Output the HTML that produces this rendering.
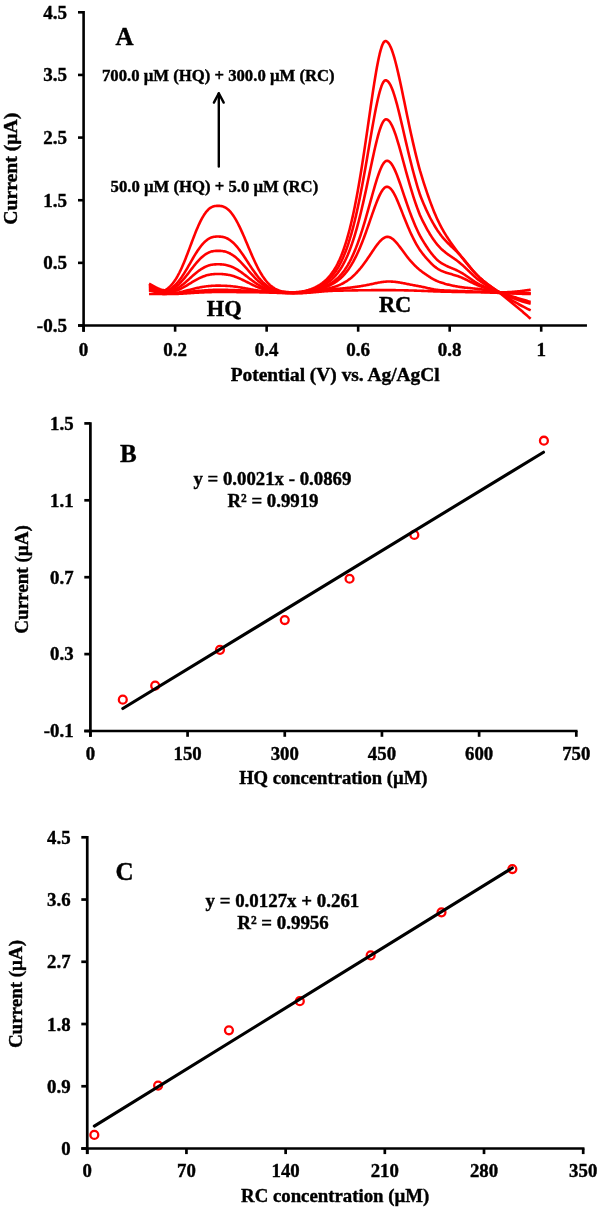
<!DOCTYPE html>
<html><head><meta charset="utf-8"><style>
html,body{margin:0;padding:0;background:#fff;}
svg{display:block;will-change:transform;}
text{font-family:'Liberation Serif',serif;font-weight:bold;fill:#000;stroke:#000;stroke-width:0.4px;}
</style></head><body>
<svg width="598" height="1209" viewBox="0 0 598 1209">
<rect width="598" height="1209" fill="#fff"/>
<g fill="none" stroke="#f00" stroke-width="2.6" stroke-linejoin="round" stroke-linecap="butt"><path d="M149.04,293.99 L149.95,294.00 L150.87,294.01 L151.78,294.02 L152.70,294.03 L153.61,294.04 L154.53,294.04 L155.44,294.05 L156.36,294.05 L157.27,294.06 L158.19,294.06 L159.10,294.07 L160.02,294.07 L160.93,294.07 L161.85,294.07 L162.76,294.08 L163.68,294.08 L164.60,294.08 L165.51,294.07 L166.43,294.06 L167.34,294.05 L168.26,294.03 L169.17,294.02 L170.09,294.01 L171.00,294.00 L171.92,293.98 L172.83,293.97 L173.75,293.95 L174.66,293.94 L175.58,293.92 L176.49,293.90 L177.41,293.87 L178.32,293.84 L179.24,293.80 L180.15,293.75 L181.07,293.70 L181.98,293.65 L182.90,293.59 L183.81,293.53 L184.73,293.47 L185.64,293.41 L186.56,293.34 L187.48,293.27 L188.39,293.21 L189.31,293.14 L190.22,293.08 L191.14,293.01 L192.05,292.95 L192.97,292.89 L193.88,292.83 L194.80,292.77 L195.71,292.72 L196.63,292.68 L197.54,292.63 L198.46,292.60 L199.37,292.56 L200.29,292.52 L201.20,292.48 L202.12,292.44 L203.03,292.40 L203.95,292.36 L204.86,292.32 L205.78,292.28 L206.69,292.24 L207.61,292.21 L208.52,292.18 L209.44,292.14 L210.36,292.11 L211.27,292.09 L212.19,292.06 L213.10,292.04 L214.02,292.02 L214.93,292.01 L215.85,292.00 L216.76,291.99 L217.68,291.99 L218.59,291.99 L219.51,291.99 L220.42,291.99 L221.34,291.99 L222.25,291.99 L223.17,292.00 L224.08,292.00 L225.00,292.00 L225.91,292.01 L226.83,292.01 L227.74,292.01 L228.66,292.02 L229.57,292.03 L230.49,292.03 L231.40,292.04 L232.32,292.04 L233.24,292.05 L234.15,292.06 L235.07,292.06 L235.98,292.07 L236.90,292.08 L237.81,292.09 L238.73,292.10 L239.64,292.10 L240.56,292.11 L241.47,292.12 L242.39,292.13 L243.30,292.14 L244.22,292.15 L245.13,292.16 L246.05,292.17 L246.96,292.18 L247.88,292.19 L248.79,292.20 L249.71,292.21 L250.62,292.22 L251.54,292.23 L252.45,292.24 L253.37,292.25 L254.28,292.26 L255.20,292.27 L256.12,292.28 L257.03,292.30 L257.95,292.31 L258.86,292.32 L259.78,292.33 L260.69,292.35 L261.61,292.37 L262.52,292.39 L263.44,292.41 L264.35,292.43 L265.27,292.46 L266.18,292.48 L267.10,292.51 L268.01,292.54 L268.93,292.56 L269.84,292.59 L270.76,292.62 L271.67,292.65 L272.59,292.68 L273.50,292.71 L274.42,292.74 L275.33,292.77 L276.25,292.81 L277.16,292.84 L278.08,292.87 L279.00,292.90 L279.91,292.93 L280.83,292.95 L281.74,292.98 L282.66,293.01 L283.57,293.04 L284.49,293.06 L285.40,293.08 L286.32,293.11 L287.23,293.13 L288.15,293.15 L289.06,293.17 L289.98,293.18 L290.89,293.20 L291.81,293.21 L292.72,293.22 L293.64,293.23 L294.55,293.24 L295.47,293.24 L296.38,293.24 L297.30,293.24 L298.21,293.23 L299.13,293.21 L300.04,293.18 L300.96,293.15 L301.88,293.12 L302.79,293.08 L303.71,293.03 L304.62,292.98 L305.54,292.92 L306.45,292.86 L307.37,292.80 L308.28,292.73 L309.20,292.66 L310.11,292.59 L311.03,292.52 L311.94,292.44 L312.86,292.36 L313.77,292.28 L314.69,292.19 L315.60,292.11 L316.52,292.03 L317.43,291.94 L318.35,291.86 L319.26,291.78 L320.18,291.69 L321.09,291.61 L322.01,291.53 L322.92,291.45 L323.84,291.38 L324.76,291.30 L325.67,291.23 L326.59,291.17 L327.50,291.10 L328.42,291.04 L329.33,290.98 L330.25,290.93 L331.16,290.88 L332.08,290.84 L332.99,290.80 L333.91,290.77 L334.82,290.75 L335.74,290.73 L336.65,290.71 L337.57,290.69 L338.48,290.67 L339.40,290.65 L340.31,290.63 L341.23,290.61 L342.14,290.59 L343.06,290.58 L343.97,290.56 L344.89,290.54 L345.80,290.53 L346.72,290.51 L347.64,290.49 L348.55,290.48 L349.47,290.46 L350.38,290.44 L351.30,290.43 L352.21,290.41 L353.13,290.40 L354.04,290.38 L354.96,290.37 L355.87,290.36 L356.79,290.34 L357.70,290.33 L358.62,290.32 L359.53,290.30 L360.45,290.29 L361.36,290.28 L362.28,290.27 L363.19,290.26 L364.11,290.25 L365.02,290.24 L365.94,290.23 L366.85,290.22 L367.77,290.21 L368.68,290.20 L369.60,290.19 L370.52,290.18 L371.43,290.17 L372.35,290.17 L373.26,290.16 L374.18,290.15 L375.09,290.15 L376.01,290.14 L376.92,290.14 L377.84,290.13 L378.75,290.13 L379.67,290.12 L380.58,290.12 L381.50,290.12 L382.41,290.11 L383.33,290.11 L384.24,290.11 L385.16,290.11 L386.07,290.11 L386.99,290.11 L387.90,290.11 L388.82,290.11 L389.73,290.12 L390.65,290.12 L391.56,290.13 L392.48,290.14 L393.40,290.14 L394.31,290.15 L395.23,290.17 L396.14,290.18 L397.06,290.19 L397.97,290.21 L398.89,290.22 L399.80,290.24 L400.72,290.25 L401.63,290.27 L402.55,290.29 L403.46,290.31 L404.38,290.33 L405.29,290.35 L406.21,290.37 L407.12,290.40 L408.04,290.42 L408.95,290.44 L409.87,290.47 L410.78,290.49 L411.70,290.52 L412.61,290.55 L413.53,290.57 L414.44,290.60 L415.36,290.63 L416.28,290.66 L417.19,290.68 L418.11,290.71 L419.02,290.74 L419.94,290.77 L420.85,290.80 L421.77,290.84 L422.68,290.87 L423.60,290.91 L424.51,290.94 L425.43,290.98 L426.34,291.02 L427.26,291.06 L428.17,291.10 L429.09,291.14 L430.00,291.18 L430.92,291.22 L431.83,291.25 L432.75,291.29 L433.66,291.33 L434.58,291.37 L435.49,291.40 L436.41,291.43 L437.32,291.47 L438.24,291.50 L439.16,291.53 L440.07,291.55 L440.99,291.58 L441.90,291.60 L442.82,291.63 L443.73,291.65 L444.65,291.67 L445.56,291.69 L446.48,291.71 L447.39,291.74 L448.31,291.76 L449.22,291.78 L450.14,291.80 L451.05,291.81 L451.97,291.83 L452.88,291.85 L453.80,291.87 L454.71,291.89 L455.63,291.91 L456.54,291.92 L457.46,291.94 L458.37,291.96 L459.29,291.97 L460.20,291.99 L461.12,292.01 L462.04,292.02 L462.95,292.04 L463.87,292.05 L464.78,292.07 L465.70,292.08 L466.61,292.09 L467.53,292.10 L468.44,292.12 L469.36,292.13 L470.27,292.14 L471.19,292.15 L472.10,292.17 L473.02,292.18 L473.93,292.19 L474.85,292.21 L475.76,292.22 L476.68,292.24 L477.59,292.25 L478.51,292.27 L479.42,292.29 L480.34,292.31 L481.25,292.33 L482.17,292.35 L483.08,292.37 L484.00,292.40 L484.92,292.42 L485.83,292.45 L486.75,292.48 L487.66,292.51 L488.58,292.54 L489.49,292.57 L490.41,292.60 L491.32,292.63 L492.24,292.66 L493.15,292.69 L494.07,292.72 L494.98,292.75 L495.90,292.78 L496.81,292.81 L497.73,292.84 L498.64,292.87 L499.56,292.89 L500.47,292.92 L501.39,292.94 L502.30,292.96 L503.22,292.98 L504.13,293.01 L505.05,293.03 L505.96,293.05 L506.88,293.07 L507.80,293.09 L508.71,293.11 L509.63,293.14 L510.54,293.16 L511.46,293.18 L512.37,293.20 L513.29,293.22 L514.20,293.24 L515.12,293.26 L516.03,293.28 L516.95,293.30 L517.86,293.31 L518.78,293.33 L519.69,293.35 L520.61,293.37 L521.52,293.39 L522.44,293.40 L523.35,293.42 L524.27,293.44 L525.18,293.45 L526.10,293.47 L527.01,293.49 L527.93,293.50 L528.84,293.52 L529.76,293.53 L530.68,293.55"/>
<path d="M149.04,290.42 L149.95,290.63 L150.87,290.83 L151.78,291.04 L152.70,291.24 L153.61,291.44 L154.53,291.64 L155.44,291.84 L156.36,292.04 L157.27,292.24 L158.19,292.44 L159.10,292.63 L160.02,292.83 L160.93,293.02 L161.85,293.21 L162.76,293.40 L163.68,293.59 L164.60,293.77 L165.51,293.85 L166.43,293.83 L167.34,293.80 L168.26,293.77 L169.17,293.74 L170.09,293.71 L171.00,293.67 L171.92,293.63 L172.83,293.59 L173.75,293.55 L174.66,293.51 L175.58,293.46 L176.49,293.40 L177.41,293.34 L178.32,293.27 L179.24,293.19 L180.15,293.10 L181.07,293.01 L181.98,292.91 L182.90,292.80 L183.81,292.70 L184.73,292.58 L185.64,292.47 L186.56,292.35 L187.48,292.23 L188.39,292.11 L189.31,291.99 L190.22,291.87 L191.14,291.75 L192.05,291.63 L192.97,291.51 L193.88,291.40 L194.80,291.29 L195.71,291.19 L196.63,291.09 L197.54,291.00 L198.46,290.92 L199.37,290.83 L200.29,290.75 L201.20,290.67 L202.12,290.59 L203.03,290.51 L203.95,290.44 L204.86,290.37 L205.78,290.30 L206.69,290.24 L207.61,290.18 L208.52,290.12 L209.44,290.07 L210.36,290.02 L211.27,289.98 L212.19,289.95 L213.10,289.91 L214.02,289.89 L214.93,289.87 L215.85,289.85 L216.76,289.84 L217.68,289.84 L218.59,289.84 L219.51,289.84 L220.42,289.84 L221.34,289.84 L222.25,289.84 L223.17,289.85 L224.08,289.86 L225.00,289.87 L225.91,289.88 L226.83,289.90 L227.74,289.91 L228.66,289.93 L229.57,289.96 L230.49,289.98 L231.40,290.01 L232.32,290.04 L233.24,290.07 L234.15,290.11 L235.07,290.14 L235.98,290.18 L236.90,290.23 L237.81,290.27 L238.73,290.32 L239.64,290.36 L240.56,290.41 L241.47,290.46 L242.39,290.51 L243.30,290.57 L244.22,290.62 L245.13,290.67 L246.05,290.73 L246.96,290.78 L247.88,290.84 L248.79,290.89 L249.71,290.95 L250.62,291.00 L251.54,291.06 L252.45,291.11 L253.37,291.16 L254.28,291.22 L255.20,291.27 L256.12,291.32 L257.03,291.36 L257.95,291.41 L258.86,291.46 L259.78,291.50 L260.69,291.55 L261.61,291.60 L262.52,291.65 L263.44,291.69 L264.35,291.74 L265.27,291.78 L266.18,291.83 L267.10,291.87 L268.01,291.92 L268.93,291.96 L269.84,292.00 L270.76,292.04 L271.67,292.08 L272.59,292.12 L273.50,292.16 L274.42,292.19 L275.33,292.23 L276.25,292.26 L277.16,292.29 L278.08,292.33 L279.00,292.36 L279.91,292.38 L280.83,292.41 L281.74,292.44 L282.66,292.46 L283.57,292.48 L284.49,292.50 L285.40,292.52 L286.32,292.53 L287.23,292.55 L288.15,292.56 L289.06,292.57 L289.98,292.58 L290.89,292.58 L291.81,292.59 L292.72,292.59 L293.64,292.59 L294.55,292.58 L295.47,292.57 L296.38,292.56 L297.30,292.55 L298.21,292.52 L299.13,292.49 L300.04,292.46 L300.96,292.41 L301.88,292.36 L302.79,292.31 L303.71,292.25 L304.62,292.18 L305.54,292.11 L306.45,292.03 L307.37,291.95 L308.28,291.87 L309.20,291.78 L310.11,291.69 L311.03,291.59 L311.94,291.50 L312.86,291.40 L313.77,291.29 L314.69,291.19 L315.60,291.08 L316.52,290.98 L317.43,290.87 L318.35,290.76 L319.26,290.65 L320.18,290.54 L321.09,290.44 L322.01,290.33 L322.92,290.22 L323.84,290.12 L324.76,290.01 L325.67,289.91 L326.59,289.81 L327.50,289.71 L328.42,289.61 L329.33,289.52 L330.25,289.43 L331.16,289.34 L332.08,289.26 L332.99,289.18 L333.91,289.10 L334.82,289.03 L335.74,288.96 L336.65,288.89 L337.57,288.82 L338.48,288.75 L339.40,288.68 L340.31,288.60 L341.23,288.52 L342.14,288.44 L343.06,288.36 L343.97,288.28 L344.89,288.19 L345.80,288.10 L346.72,288.01 L347.64,287.91 L348.55,287.81 L349.47,287.71 L350.38,287.61 L351.30,287.50 L352.21,287.39 L353.13,287.28 L354.04,287.16 L354.96,287.04 L355.87,286.91 L356.79,286.78 L357.70,286.64 L358.62,286.50 L359.53,286.36 L360.45,286.21 L361.36,286.06 L362.28,285.90 L363.19,285.74 L364.11,285.58 L365.02,285.41 L365.94,285.23 L366.85,285.05 L367.77,284.87 L368.68,284.68 L369.60,284.49 L370.52,284.30 L371.43,284.11 L372.35,283.91 L373.26,283.72 L374.18,283.52 L375.09,283.33 L376.01,283.14 L376.92,282.95 L377.84,282.77 L378.75,282.59 L379.67,282.43 L380.58,282.27 L381.50,282.12 L382.41,281.99 L383.33,281.87 L384.24,281.77 L385.16,281.68 L386.07,281.61 L386.99,281.57 L387.90,281.54 L388.82,281.53 L389.73,281.54 L390.65,281.57 L391.56,281.61 L392.48,281.66 L393.40,281.73 L394.31,281.82 L395.23,281.91 L396.14,282.02 L397.06,282.14 L397.97,282.27 L398.89,282.41 L399.80,282.56 L400.72,282.71 L401.63,282.87 L402.55,283.04 L403.46,283.21 L404.38,283.39 L405.29,283.57 L406.21,283.75 L407.12,283.93 L408.04,284.11 L408.95,284.29 L409.87,284.48 L410.78,284.66 L411.70,284.84 L412.61,285.02 L413.53,285.19 L414.44,285.37 L415.36,285.54 L416.28,285.71 L417.19,285.88 L418.11,286.04 L419.02,286.20 L419.94,286.36 L420.85,286.53 L421.77,286.72 L422.68,286.91 L423.60,287.11 L424.51,287.31 L425.43,287.52 L426.34,287.73 L427.26,287.95 L428.17,288.16 L429.09,288.37 L430.00,288.57 L430.92,288.77 L431.83,288.97 L432.75,289.15 L433.66,289.33 L434.58,289.49 L435.49,289.65 L436.41,289.79 L437.32,289.91 L438.24,290.02 L439.16,290.11 L440.07,290.18 L440.99,290.24 L441.90,290.29 L442.82,290.34 L443.73,290.39 L444.65,290.44 L445.56,290.48 L446.48,290.52 L447.39,290.56 L448.31,290.59 L449.22,290.62 L450.14,290.66 L451.05,290.69 L451.97,290.72 L452.88,290.75 L453.80,290.78 L454.71,290.81 L455.63,290.84 L456.54,290.87 L457.46,290.90 L458.37,290.93 L459.29,290.96 L460.20,290.99 L461.12,291.03 L462.04,291.06 L462.95,291.09 L463.87,291.13 L464.78,291.16 L465.70,291.19 L466.61,291.22 L467.53,291.26 L468.44,291.29 L469.36,291.32 L470.27,291.35 L471.19,291.38 L472.10,291.41 L473.02,291.44 L473.93,291.48 L474.85,291.51 L475.76,291.54 L476.68,291.57 L477.59,291.60 L478.51,291.63 L479.42,291.66 L480.34,291.68 L481.25,291.72 L482.17,291.75 L483.08,291.78 L484.00,291.82 L484.92,291.85 L485.83,291.89 L486.75,291.93 L487.66,291.96 L488.58,292.00 L489.49,292.03 L490.41,292.07 L491.32,292.10 L492.24,292.13 L493.15,292.16 L494.07,292.19 L494.98,292.22 L495.90,292.24 L496.81,292.26 L497.73,292.27 L498.64,292.29 L499.56,292.30 L500.47,292.30 L501.39,292.30 L502.30,292.29 L503.22,292.28 L504.13,292.26 L505.05,292.24 L505.96,292.21 L506.88,292.18 L507.80,292.14 L508.71,292.09 L509.63,292.04 L510.54,291.99 L511.46,291.93 L512.37,291.86 L513.29,291.79 L514.20,291.72 L515.12,291.64 L516.03,291.56 L516.95,291.47 L517.86,291.38 L518.78,291.28 L519.69,291.18 L520.61,291.07 L521.52,290.96 L522.44,290.85 L523.35,290.74 L524.27,290.62 L525.18,290.49 L526.10,290.36 L527.01,290.23 L527.93,290.10 L528.84,289.96 L529.76,289.82 L530.68,289.68"/>
<path d="M149.04,289.48 L149.95,289.75 L150.87,290.01 L151.78,290.27 L152.70,290.53 L153.61,290.79 L154.53,291.04 L155.44,291.30 L156.36,291.55 L157.27,291.80 L158.19,292.05 L159.10,292.29 L160.02,292.53 L160.93,292.77 L161.85,293.00 L162.76,293.24 L163.68,293.46 L164.60,293.69 L165.51,293.77 L166.43,293.72 L167.34,293.66 L168.26,293.59 L169.17,293.52 L170.09,293.45 L171.00,293.37 L171.92,293.28 L172.83,293.18 L173.75,293.08 L174.66,292.97 L175.58,292.86 L176.49,292.73 L177.41,292.59 L178.32,292.43 L179.24,292.27 L180.15,292.09 L181.07,291.90 L181.98,291.70 L182.90,291.50 L183.81,291.28 L184.73,291.06 L185.64,290.83 L186.56,290.60 L187.48,290.37 L188.39,290.13 L189.31,289.89 L190.22,289.65 L191.14,289.41 L192.05,289.17 L192.97,288.94 L193.88,288.71 L194.80,288.48 L195.71,288.27 L196.63,288.06 L197.54,287.86 L198.46,287.67 L199.37,287.49 L200.29,287.31 L201.20,287.14 L202.12,286.98 L203.03,286.83 L203.95,286.68 L204.86,286.54 L205.78,286.42 L206.69,286.30 L207.61,286.19 L208.52,286.09 L209.44,286.00 L210.36,285.93 L211.27,285.86 L212.19,285.80 L213.10,285.76 L214.02,285.72 L214.93,285.69 L215.85,285.67 L216.76,285.66 L217.68,285.66 L218.59,285.66 L219.51,285.67 L220.42,285.67 L221.34,285.68 L222.25,285.70 L223.17,285.72 L224.08,285.75 L225.00,285.79 L225.91,285.83 L226.83,285.88 L227.74,285.93 L228.66,286.00 L229.57,286.07 L230.49,286.15 L231.40,286.23 L232.32,286.32 L233.24,286.43 L234.15,286.53 L235.07,286.65 L235.98,286.77 L236.90,286.90 L237.81,287.03 L238.73,287.17 L239.64,287.32 L240.56,287.47 L241.47,287.62 L242.39,287.78 L243.30,287.94 L244.22,288.10 L245.13,288.27 L246.05,288.44 L246.96,288.61 L247.88,288.78 L248.79,288.95 L249.71,289.12 L250.62,289.28 L251.54,289.45 L252.45,289.61 L253.37,289.77 L254.28,289.93 L255.20,290.09 L256.12,290.24 L257.03,290.38 L257.95,290.52 L258.86,290.66 L259.78,290.80 L260.69,290.93 L261.61,291.06 L262.52,291.18 L263.44,291.30 L264.35,291.41 L265.27,291.53 L266.18,291.63 L267.10,291.74 L268.01,291.83 L268.93,291.93 L269.84,292.02 L270.76,292.10 L271.67,292.18 L272.59,292.26 L273.50,292.33 L274.42,292.40 L275.33,292.47 L276.25,292.53 L277.16,292.59 L278.08,292.64 L279.00,292.69 L279.91,292.74 L280.83,292.78 L281.74,292.82 L282.66,292.86 L283.57,292.90 L284.49,292.93 L285.40,292.96 L286.32,292.98 L287.23,293.01 L288.15,293.03 L289.06,293.04 L289.98,293.06 L290.89,293.07 L291.81,293.07 L292.72,293.08 L293.64,293.08 L294.55,293.08 L295.47,293.07 L296.38,293.06 L297.30,293.04 L298.21,293.02 L299.13,292.98 L300.04,292.94 L300.96,292.89 L301.88,292.84 L302.79,292.77 L303.71,292.70 L304.62,292.62 L305.54,292.54 L306.45,292.45 L307.37,292.35 L308.28,292.25 L309.20,292.14 L310.11,292.03 L311.03,291.91 L311.94,291.78 L312.86,291.65 L313.77,291.51 L314.69,291.37 L315.60,291.22 L316.52,291.07 L317.43,290.91 L318.35,290.74 L319.26,290.58 L320.18,290.40 L321.09,290.22 L322.01,290.03 L322.92,289.84 L323.84,289.64 L324.76,289.44 L325.67,289.23 L326.59,289.01 L327.50,288.79 L328.42,288.55 L329.33,288.32 L330.25,288.07 L331.16,287.81 L332.08,287.55 L332.99,287.27 L333.91,286.99 L334.82,286.70 L335.74,286.39 L336.65,286.07 L337.57,285.73 L338.48,285.37 L339.40,284.99 L340.31,284.58 L341.23,284.16 L342.14,283.71 L343.06,283.24 L343.97,282.74 L344.89,282.21 L345.80,281.65 L346.72,281.07 L347.64,280.46 L348.55,279.81 L349.47,279.13 L350.38,278.43 L351.30,277.68 L352.21,276.90 L353.13,276.09 L354.04,275.24 L354.96,274.36 L355.87,273.44 L356.79,272.48 L357.70,271.49 L358.62,270.46 L359.53,269.39 L360.45,268.29 L361.36,267.15 L362.28,265.98 L363.19,264.77 L364.11,263.54 L365.02,262.28 L365.94,260.99 L366.85,259.68 L367.77,258.35 L368.68,257.01 L369.60,255.65 L370.52,254.29 L371.43,252.93 L372.35,251.57 L373.26,250.22 L374.18,248.88 L375.09,247.58 L376.01,246.30 L376.92,245.07 L377.84,243.88 L378.75,242.76 L379.67,241.70 L380.58,240.72 L381.50,239.83 L382.41,239.03 L383.33,238.35 L384.24,237.78 L385.16,237.34 L386.07,237.04 L386.99,236.88 L387.90,236.88 L388.82,237.02 L389.73,237.29 L390.65,237.68 L391.56,238.20 L392.48,238.84 L393.40,239.58 L394.31,240.42 L395.23,241.34 L396.14,242.34 L397.06,243.41 L397.97,244.53 L398.89,245.69 L399.80,246.89 L400.72,248.11 L401.63,249.35 L402.55,250.59 L403.46,251.83 L404.38,253.07 L405.29,254.29 L406.21,255.50 L407.12,256.68 L408.04,257.84 L408.95,258.98 L409.87,260.08 L410.78,261.16 L411.70,262.20 L412.61,263.21 L413.53,264.19 L414.44,265.13 L415.36,266.04 L416.28,266.92 L417.19,267.77 L418.11,268.59 L419.02,269.37 L419.94,270.13 L420.85,270.82 L421.77,271.50 L422.68,272.18 L423.60,272.85 L424.51,273.51 L425.43,274.16 L426.34,274.80 L427.26,275.42 L428.17,276.03 L429.09,276.63 L430.00,277.21 L430.92,277.77 L431.83,278.31 L432.75,278.84 L433.66,279.34 L434.58,279.82 L435.49,280.28 L436.41,280.71 L437.32,281.12 L438.24,281.50 L439.16,281.86 L440.07,282.18 L440.99,282.49 L441.90,282.79 L442.82,283.08 L443.73,283.36 L444.65,283.63 L445.56,283.90 L446.48,284.15 L447.39,284.40 L448.31,284.63 L449.22,284.86 L450.14,285.08 L451.05,285.29 L451.97,285.50 L452.88,285.69 L453.80,285.88 L454.71,286.06 L455.63,286.24 L456.54,286.40 L457.46,286.56 L458.37,286.72 L459.29,286.86 L460.20,287.00 L461.12,287.14 L462.04,287.26 L462.95,287.38 L463.87,287.49 L464.78,287.60 L465.70,287.70 L466.61,287.80 L467.53,287.89 L468.44,287.98 L469.36,288.07 L470.27,288.16 L471.19,288.24 L472.10,288.33 L473.02,288.42 L473.93,288.50 L474.85,288.59 L475.76,288.69 L476.68,288.78 L477.59,288.88 L478.51,288.99 L479.42,289.09 L480.34,289.21 L481.25,289.34 L482.17,289.47 L483.08,289.62 L484.00,289.77 L484.92,289.93 L485.83,290.09 L486.75,290.26 L487.66,290.43 L488.58,290.60 L489.49,290.77 L490.41,290.94 L491.32,291.10 L492.24,291.26 L493.15,291.42 L494.07,291.56 L494.98,291.70 L495.90,291.83 L496.81,291.95 L497.73,292.05 L498.64,292.14 L499.56,292.22 L500.47,292.28 L501.39,292.32 L502.30,292.36 L503.22,292.40 L504.13,292.44 L505.05,292.48 L505.96,292.51 L506.88,292.55 L507.80,292.58 L508.71,292.62 L509.63,292.65 L510.54,292.68 L511.46,292.71 L512.37,292.74 L513.29,292.77 L514.20,292.79 L515.12,292.82 L516.03,292.85 L516.95,292.87 L517.86,292.89 L518.78,292.91 L519.69,292.93 L520.61,292.95 L521.52,292.97 L522.44,292.98 L523.35,292.99 L524.27,293.01 L525.18,293.02 L526.10,293.03 L527.01,293.04 L527.93,293.04 L528.84,293.05 L529.76,293.05 L530.68,293.05"/>
<path d="M149.04,288.54 L149.95,288.85 L150.87,289.16 L151.78,289.46 L152.70,289.77 L153.61,290.06 L154.53,290.36 L155.44,290.65 L156.36,290.93 L157.27,291.21 L158.19,291.48 L159.10,291.75 L160.02,292.01 L160.93,292.26 L161.85,292.51 L162.76,292.74 L163.68,292.96 L164.60,293.18 L165.51,293.22 L166.43,293.09 L167.34,292.94 L168.26,292.78 L169.17,292.61 L170.09,292.41 L171.00,292.21 L171.92,291.98 L172.83,291.74 L173.75,291.48 L174.66,291.20 L175.58,290.90 L176.49,290.57 L177.41,290.22 L178.32,289.85 L179.24,289.45 L180.15,289.03 L181.07,288.59 L181.98,288.12 L182.90,287.64 L183.81,287.14 L184.73,286.63 L185.64,286.10 L186.56,285.56 L187.48,285.01 L188.39,284.45 L189.31,283.89 L190.22,283.33 L191.14,282.77 L192.05,282.21 L192.97,281.66 L193.88,281.11 L194.80,280.58 L195.71,280.06 L196.63,279.56 L197.54,279.07 L198.46,278.61 L199.37,278.16 L200.29,277.73 L201.20,277.32 L202.12,276.93 L203.03,276.57 L203.95,276.23 L204.86,275.91 L205.78,275.61 L206.69,275.35 L207.61,275.11 L208.52,274.89 L209.44,274.70 L210.36,274.54 L211.27,274.40 L212.19,274.28 L213.10,274.19 L214.02,274.12 L214.93,274.06 L215.85,274.03 L216.76,274.01 L217.68,274.01 L218.59,274.01 L219.51,274.02 L220.42,274.04 L221.34,274.07 L222.25,274.11 L223.17,274.17 L224.08,274.25 L225.00,274.34 L225.91,274.45 L226.83,274.59 L227.74,274.74 L228.66,274.91 L229.57,275.10 L230.49,275.31 L231.40,275.54 L232.32,275.79 L233.24,276.07 L234.15,276.36 L235.07,276.67 L235.98,277.01 L236.90,277.35 L237.81,277.72 L238.73,278.10 L239.64,278.50 L240.56,278.91 L241.47,279.33 L242.39,279.76 L243.30,280.21 L244.22,280.66 L245.13,281.11 L246.05,281.57 L246.96,282.03 L247.88,282.50 L248.79,282.96 L249.71,283.42 L250.62,283.88 L251.54,284.33 L252.45,284.78 L253.37,285.21 L254.28,285.64 L255.20,286.06 L256.12,286.47 L257.03,286.86 L257.95,287.24 L258.86,287.61 L259.78,287.97 L260.69,288.31 L261.61,288.64 L262.52,288.96 L263.44,289.26 L264.35,289.55 L265.27,289.82 L266.18,290.08 L267.10,290.32 L268.01,290.55 L268.93,290.77 L269.84,290.97 L270.76,291.16 L271.67,291.33 L272.59,291.50 L273.50,291.65 L274.42,291.79 L275.33,291.92 L276.25,292.04 L277.16,292.15 L278.08,292.25 L279.00,292.34 L279.91,292.43 L280.83,292.50 L281.74,292.57 L282.66,292.63 L283.57,292.69 L284.49,292.74 L285.40,292.78 L286.32,292.82 L287.23,292.85 L288.15,292.87 L289.06,292.89 L289.98,292.91 L290.89,292.92 L291.81,292.92 L292.72,292.92 L293.64,292.92 L294.55,292.91 L295.47,292.89 L296.38,292.87 L297.30,292.84 L298.21,292.80 L299.13,292.75 L300.04,292.69 L300.96,292.62 L301.88,292.55 L302.79,292.46 L303.71,292.37 L304.62,292.26 L305.54,292.15 L306.45,292.03 L307.37,291.90 L308.28,291.76 L309.20,291.61 L310.11,291.45 L311.03,291.29 L311.94,291.11 L312.86,290.93 L313.77,290.73 L314.69,290.53 L315.60,290.32 L316.52,290.09 L317.43,289.86 L318.35,289.61 L319.26,289.36 L320.18,289.09 L321.09,288.81 L322.01,288.51 L322.92,288.21 L323.84,287.89 L324.76,287.55 L325.67,287.20 L326.59,286.83 L327.50,286.44 L328.42,286.04 L329.33,285.62 L330.25,285.18 L331.16,284.71 L332.08,284.22 L332.99,283.71 L333.91,283.18 L334.82,282.62 L335.74,282.03 L336.65,281.40 L337.57,280.74 L338.48,280.04 L339.40,279.29 L340.31,278.50 L341.23,277.67 L342.14,276.79 L343.06,275.86 L343.97,274.88 L344.89,273.85 L345.80,272.76 L346.72,271.61 L347.64,270.41 L348.55,269.14 L349.47,267.81 L350.38,266.41 L351.30,264.95 L352.21,263.42 L353.13,261.83 L354.04,260.16 L354.96,258.42 L355.87,256.61 L356.79,254.73 L357.70,252.77 L358.62,250.75 L359.53,248.65 L360.45,246.49 L361.36,244.26 L362.28,241.97 L363.19,239.61 L364.11,237.20 L365.02,234.74 L365.94,232.22 L366.85,229.67 L367.77,227.08 L368.68,224.47 L369.60,221.83 L370.52,219.19 L371.43,216.55 L372.35,213.93 L373.26,211.33 L374.18,208.77 L375.09,206.27 L376.01,203.84 L376.92,201.49 L377.84,199.25 L378.75,197.13 L379.67,195.16 L380.58,193.34 L381.50,191.70 L382.41,190.27 L383.33,189.05 L384.24,188.07 L385.16,187.35 L386.07,186.90 L386.99,186.75 L387.90,186.88 L388.82,187.25 L389.73,187.85 L390.65,188.70 L391.56,189.76 L392.48,191.02 L393.40,192.48 L394.31,194.11 L395.23,195.89 L396.14,197.81 L397.06,199.84 L397.97,201.96 L398.89,204.16 L399.80,206.42 L400.72,208.71 L401.63,211.04 L402.55,213.37 L403.46,215.70 L404.38,218.02 L405.29,220.31 L406.21,222.57 L407.12,224.80 L408.04,226.97 L408.95,229.10 L409.87,231.18 L410.78,233.20 L411.70,235.16 L412.61,237.06 L413.53,238.90 L414.44,240.67 L415.36,242.39 L416.28,244.05 L417.19,245.65 L418.11,247.19 L419.02,248.67 L419.94,250.10 L420.85,251.31 L421.77,252.50 L422.68,253.68 L423.60,254.84 L424.51,255.97 L425.43,257.07 L426.34,258.16 L427.26,259.21 L428.17,260.24 L429.09,261.23 L430.00,262.19 L430.92,263.12 L431.83,264.01 L432.75,264.86 L433.66,265.67 L434.58,266.44 L435.49,267.17 L436.41,267.85 L437.32,268.49 L438.24,269.08 L439.16,269.62 L440.07,270.11 L440.99,270.56 L441.90,270.98 L442.82,271.37 L443.73,271.74 L444.65,272.09 L445.56,272.41 L446.48,272.72 L447.39,273.02 L448.31,273.30 L449.22,273.58 L450.14,273.84 L451.05,274.11 L451.97,274.37 L452.88,274.63 L453.80,274.89 L454.71,275.16 L455.63,275.44 L456.54,275.72 L457.46,276.02 L458.37,276.34 L459.29,276.67 L460.20,277.03 L461.12,277.40 L462.04,277.79 L462.95,278.20 L463.87,278.61 L464.78,279.04 L465.70,279.48 L466.61,279.93 L467.53,280.38 L468.44,280.84 L469.36,281.30 L470.27,281.76 L471.19,282.22 L472.10,282.67 L473.02,283.12 L473.93,283.56 L474.85,283.99 L475.76,284.41 L476.68,284.82 L477.59,285.21 L478.51,285.58 L479.42,285.94 L480.34,286.28 L481.25,286.62 L482.17,286.96 L483.08,287.30 L484.00,287.65 L484.92,287.99 L485.83,288.34 L486.75,288.68 L487.66,289.02 L488.58,289.35 L489.49,289.67 L490.41,289.98 L491.32,290.28 L492.24,290.57 L493.15,290.85 L494.07,291.11 L494.98,291.35 L495.90,291.58 L496.81,291.78 L497.73,291.97 L498.64,292.13 L499.56,292.27 L500.47,292.38 L501.39,292.47 L502.30,292.55 L503.22,292.63 L504.13,292.71 L505.05,292.79 L505.96,292.86 L506.88,292.94 L507.80,293.01 L508.71,293.08 L509.63,293.15 L510.54,293.21 L511.46,293.28 L512.37,293.34 L513.29,293.40 L514.20,293.45 L515.12,293.51 L516.03,293.56 L516.95,293.61 L517.86,293.65 L518.78,293.70 L519.69,293.74 L520.61,293.77 L521.52,293.81 L522.44,293.84 L523.35,293.87 L524.27,293.90 L525.18,293.92 L526.10,293.94 L527.01,293.96 L527.93,293.97 L528.84,293.98 L529.76,293.99 L530.68,293.99"/>
<path d="M149.04,287.29 L149.95,287.66 L150.87,288.04 L151.78,288.40 L152.70,288.77 L153.61,289.13 L154.53,289.48 L155.44,289.82 L156.36,290.16 L157.27,290.49 L158.19,290.82 L159.10,291.13 L160.02,291.43 L160.93,291.72 L161.85,292.00 L162.76,292.26 L163.68,292.51 L164.60,292.74 L165.51,292.76 L166.43,292.56 L167.34,292.34 L168.26,292.10 L169.17,291.84 L170.09,291.55 L171.00,291.24 L171.92,290.90 L172.83,290.54 L173.75,290.14 L174.66,289.72 L175.58,289.27 L176.49,288.78 L177.41,288.25 L178.32,287.70 L179.24,287.11 L180.15,286.48 L181.07,285.83 L181.98,285.14 L182.90,284.43 L183.81,283.69 L184.73,282.93 L185.64,282.15 L186.56,281.36 L187.48,280.55 L188.39,279.73 L189.31,278.90 L190.22,278.07 L191.14,277.24 L192.05,276.41 L192.97,275.59 L193.88,274.79 L194.80,274.00 L195.71,273.22 L196.63,272.47 L197.54,271.75 L198.46,271.06 L199.37,270.39 L200.29,269.75 L201.20,269.14 L202.12,268.56 L203.03,268.02 L203.95,267.51 L204.86,267.04 L205.78,266.61 L206.69,266.22 L207.61,265.87 L208.52,265.56 L209.44,265.28 L210.36,265.04 L211.27,264.84 L212.19,264.68 L213.10,264.54 L214.02,264.44 L214.93,264.37 L215.85,264.33 L216.76,264.31 L217.68,264.30 L218.59,264.30 L219.51,264.32 L220.42,264.35 L221.34,264.39 L222.25,264.46 L223.17,264.55 L224.08,264.66 L225.00,264.81 L225.91,264.98 L226.83,265.17 L227.74,265.40 L228.66,265.66 L229.57,265.96 L230.49,266.28 L231.40,266.63 L232.32,267.02 L233.24,267.44 L234.15,267.88 L235.07,268.36 L235.98,268.87 L236.90,269.40 L237.81,269.96 L238.73,270.55 L239.64,271.15 L240.56,271.78 L241.47,272.42 L242.39,273.09 L243.30,273.76 L244.22,274.45 L245.13,275.14 L246.05,275.85 L246.96,276.55 L247.88,277.26 L248.79,277.97 L249.71,278.68 L250.62,279.37 L251.54,280.06 L252.45,280.75 L253.37,281.41 L254.28,282.07 L255.20,282.71 L256.12,283.33 L257.03,283.93 L257.95,284.51 L258.86,285.07 L259.78,285.61 L260.69,286.13 L261.61,286.63 L262.52,287.11 L263.44,287.56 L264.35,287.99 L265.27,288.40 L266.18,288.78 L267.10,289.15 L268.01,289.49 L268.93,289.80 L269.84,290.10 L270.76,290.38 L271.67,290.63 L272.59,290.87 L273.50,291.09 L274.42,291.29 L275.33,291.48 L276.25,291.65 L277.16,291.80 L278.08,291.94 L279.00,292.07 L279.91,292.18 L280.83,292.29 L281.74,292.38 L282.66,292.46 L283.57,292.53 L284.49,292.60 L285.40,292.65 L286.32,292.70 L287.23,292.74 L288.15,292.77 L289.06,292.80 L289.98,292.82 L290.89,292.83 L291.81,292.83 L292.72,292.83 L293.64,292.83 L294.55,292.81 L295.47,292.79 L296.38,292.77 L297.30,292.73 L298.21,292.69 L299.13,292.63 L300.04,292.57 L300.96,292.49 L301.88,292.40 L302.79,292.30 L303.71,292.20 L304.62,292.08 L305.54,291.95 L306.45,291.81 L307.37,291.67 L308.28,291.51 L309.20,291.34 L310.11,291.16 L311.03,290.98 L311.94,290.78 L312.86,290.57 L313.77,290.34 L314.69,290.11 L315.60,289.86 L316.52,289.60 L317.43,289.33 L318.35,289.05 L319.26,288.75 L320.18,288.43 L321.09,288.10 L322.01,287.75 L322.92,287.39 L323.84,287.01 L324.76,286.60 L325.67,286.18 L326.59,285.74 L327.50,285.27 L328.42,284.78 L329.33,284.27 L330.25,283.73 L331.16,283.16 L332.08,282.56 L332.99,281.93 L333.91,281.27 L334.82,280.57 L335.74,279.84 L336.65,279.06 L337.57,278.24 L338.48,277.36 L339.40,276.43 L340.31,275.45 L341.23,274.42 L342.14,273.32 L343.06,272.16 L343.97,270.94 L344.89,269.65 L345.80,268.29 L346.72,266.86 L347.64,265.36 L348.55,263.77 L349.47,262.11 L350.38,260.37 L351.30,258.55 L352.21,256.64 L353.13,254.64 L354.04,252.56 L354.96,250.38 L355.87,248.12 L356.79,245.77 L357.70,243.33 L358.62,240.80 L359.53,238.18 L360.45,235.47 L361.36,232.69 L362.28,229.82 L363.19,226.87 L364.11,223.86 L365.02,220.78 L365.94,217.63 L366.85,214.44 L367.77,211.20 L368.68,207.93 L369.60,204.64 L370.52,201.34 L371.43,198.04 L372.35,194.75 L373.26,191.50 L374.18,188.30 L375.09,185.17 L376.01,182.13 L376.92,179.20 L377.84,176.39 L378.75,173.74 L379.67,171.27 L380.58,169.00 L381.50,166.95 L382.41,165.15 L383.33,163.63 L384.24,162.40 L385.16,161.50 L386.07,160.95 L386.99,160.76 L387.90,160.89 L388.82,161.30 L389.73,161.97 L390.65,162.89 L391.56,164.06 L392.48,165.46 L393.40,167.07 L394.31,168.88 L395.23,170.87 L396.14,173.02 L397.06,175.31 L397.97,177.71 L398.89,180.21 L399.80,182.80 L400.72,185.44 L401.63,188.13 L402.55,190.85 L403.46,193.57 L404.38,196.30 L405.29,199.02 L406.21,201.71 L407.12,204.37 L408.04,206.99 L408.95,209.57 L409.87,212.09 L410.78,214.56 L411.70,216.97 L412.61,219.31 L413.53,221.59 L414.44,223.80 L415.36,225.95 L416.28,228.03 L417.19,230.05 L418.11,231.99 L419.02,233.88 L419.94,235.70 L420.85,237.27 L421.77,238.82 L422.68,240.34 L423.60,241.85 L424.51,243.32 L425.43,244.77 L426.34,246.19 L427.26,247.57 L428.17,248.92 L429.09,250.23 L430.00,251.50 L430.92,252.72 L431.83,253.91 L432.75,255.04 L433.66,256.13 L434.58,257.16 L435.49,258.14 L436.41,259.07 L437.32,259.94 L438.24,260.75 L439.16,261.49 L440.07,262.17 L440.99,262.80 L441.90,263.39 L442.82,263.95 L443.73,264.47 L444.65,264.96 L445.56,265.43 L446.48,265.87 L447.39,266.30 L448.31,266.71 L449.22,267.10 L450.14,267.49 L451.05,267.87 L451.97,268.24 L452.88,268.62 L453.80,269.00 L454.71,269.39 L455.63,269.79 L456.54,270.20 L457.46,270.63 L458.37,271.07 L459.29,271.55 L460.20,272.04 L461.12,272.57 L462.04,273.12 L462.95,273.69 L463.87,274.28 L464.78,274.88 L465.70,275.50 L466.61,276.12 L467.53,276.75 L468.44,277.39 L469.36,278.03 L470.27,278.67 L471.19,279.30 L472.10,279.93 L473.02,280.55 L473.93,281.15 L474.85,281.74 L475.76,282.31 L476.68,282.86 L477.59,283.39 L478.51,283.89 L479.42,284.37 L480.34,284.81 L481.25,285.24 L482.17,285.65 L483.08,286.05 L484.00,286.45 L484.92,286.83 L485.83,287.20 L486.75,287.57 L487.66,287.93 L488.58,288.28 L489.49,288.62 L490.41,288.96 L491.32,289.29 L492.24,289.62 L493.15,289.94 L494.07,290.26 L494.98,290.58 L495.90,290.89 L496.81,291.21 L497.73,291.52 L498.64,291.83 L499.56,292.14 L500.47,292.46 L501.39,292.77 L502.30,293.09 L503.22,293.40 L504.13,293.71 L505.05,294.02 L505.96,294.32 L506.88,294.63 L507.80,294.94 L508.71,295.24 L509.63,295.54 L510.54,295.84 L511.46,296.13 L512.37,296.43 L513.29,296.72 L514.20,297.02 L515.12,297.30 L516.03,297.59 L516.95,297.88 L517.86,298.16 L518.78,298.44 L519.69,298.72 L520.61,299.00 L521.52,299.27 L522.44,299.54 L523.35,299.81 L524.27,300.08 L525.18,300.35 L526.10,300.61 L527.01,300.87 L527.93,301.13 L528.84,301.38 L529.76,301.64 L530.68,301.89"/>
<path d="M149.04,286.04 L149.95,286.47 L150.87,286.91 L151.78,287.34 L152.70,287.76 L153.61,288.17 L154.53,288.58 L155.44,288.97 L156.36,289.36 L157.27,289.74 L158.19,290.10 L159.10,290.45 L160.02,290.78 L160.93,291.09 L161.85,291.39 L162.76,291.66 L163.68,291.92 L164.60,292.15 L165.51,292.12 L166.43,291.83 L167.34,291.51 L168.26,291.16 L169.17,290.78 L170.09,290.36 L171.00,289.90 L171.92,289.40 L172.83,288.87 L173.75,288.29 L174.66,287.67 L175.58,287.00 L176.49,286.29 L177.41,285.52 L178.32,284.71 L179.24,283.85 L180.15,282.95 L181.07,282.00 L181.98,281.00 L182.90,279.97 L183.81,278.91 L184.73,277.81 L185.64,276.68 L186.56,275.53 L187.48,274.36 L188.39,273.17 L189.31,271.97 L190.22,270.77 L191.14,269.57 L192.05,268.37 L192.97,267.18 L193.88,266.01 L194.80,264.86 L195.71,263.74 L196.63,262.65 L197.54,261.59 L198.46,260.58 L199.37,259.60 L200.29,258.67 L201.20,257.78 L202.12,256.95 L203.03,256.16 L203.95,255.43 L204.86,254.75 L205.78,254.13 L206.69,253.56 L207.61,253.06 L208.52,252.61 L209.44,252.21 L210.36,251.87 L211.27,251.59 L212.19,251.36 L213.10,251.17 L214.02,251.03 L214.93,250.93 L215.85,250.87 L216.76,250.84 L217.68,250.83 L218.59,250.84 L219.51,250.86 L220.42,250.90 L221.34,250.97 L222.25,251.07 L223.17,251.20 L224.08,251.37 L225.00,251.58 L225.91,251.83 L226.83,252.12 L227.74,252.46 L228.66,252.84 L229.57,253.27 L230.49,253.75 L231.40,254.28 L232.32,254.85 L233.24,255.46 L234.15,256.13 L235.07,256.83 L235.98,257.58 L236.90,258.37 L237.81,259.20 L238.73,260.06 L239.64,260.96 L240.56,261.89 L241.47,262.84 L242.39,263.82 L243.30,264.82 L244.22,265.84 L245.13,266.87 L246.05,267.91 L246.96,268.95 L247.88,270.00 L248.79,271.05 L249.71,272.09 L250.62,273.13 L251.54,274.15 L252.45,275.15 L253.37,276.14 L254.28,277.11 L255.20,278.05 L256.12,278.97 L257.03,279.86 L257.95,280.72 L258.86,281.55 L259.78,282.35 L260.69,283.11 L261.61,283.84 L262.52,284.54 L263.44,285.20 L264.35,285.83 L265.27,286.43 L266.18,286.99 L267.10,287.51 L268.01,288.00 L268.93,288.46 L269.84,288.89 L270.76,289.29 L271.67,289.65 L272.59,289.99 L273.50,290.30 L274.42,290.59 L275.33,290.85 L276.25,291.09 L277.16,291.30 L278.08,291.50 L279.00,291.67 L279.91,291.83 L280.83,291.97 L281.74,292.09 L282.66,292.20 L283.57,292.30 L284.49,292.38 L285.40,292.45 L286.32,292.51 L287.23,292.56 L288.15,292.60 L289.06,292.63 L289.98,292.65 L290.89,292.66 L291.81,292.67 L292.72,292.66 L293.64,292.65 L294.55,292.63 L295.47,292.60 L296.38,292.56 L297.30,292.52 L298.21,292.46 L299.13,292.38 L300.04,292.30 L300.96,292.20 L301.88,292.09 L302.79,291.97 L303.71,291.84 L304.62,291.69 L305.54,291.54 L306.45,291.37 L307.37,291.18 L308.28,290.99 L309.20,290.78 L310.11,290.56 L311.03,290.32 L311.94,290.07 L312.86,289.80 L313.77,289.52 L314.69,289.23 L315.60,288.91 L316.52,288.58 L317.43,288.23 L318.35,287.86 L319.26,287.47 L320.18,287.06 L321.09,286.62 L322.01,286.16 L322.92,285.68 L323.84,285.17 L324.76,284.63 L325.67,284.07 L326.59,283.47 L327.50,282.84 L328.42,282.17 L329.33,281.47 L330.25,280.73 L331.16,279.95 L332.08,279.12 L332.99,278.25 L333.91,277.34 L334.82,276.37 L335.74,275.35 L336.65,274.26 L337.57,273.11 L338.48,271.90 L339.40,270.61 L340.31,269.24 L341.23,267.80 L342.14,266.28 L343.06,264.67 L343.97,262.97 L344.89,261.18 L345.80,259.30 L346.72,257.31 L347.64,255.23 L348.55,253.04 L349.47,250.75 L350.38,248.34 L351.30,245.82 L352.21,243.19 L353.13,240.44 L354.04,237.58 L354.96,234.59 L355.87,231.49 L356.79,228.27 L357.70,224.93 L358.62,221.48 L359.53,217.91 L360.45,214.23 L361.36,210.45 L362.28,206.57 L363.19,202.59 L364.11,198.52 L365.02,194.37 L365.94,190.16 L366.85,185.89 L367.77,181.57 L368.68,177.22 L369.60,172.86 L370.52,168.51 L371.43,164.17 L372.35,159.88 L373.26,155.66 L374.18,151.53 L375.09,147.51 L376.01,143.64 L376.92,139.94 L377.84,136.44 L378.75,133.17 L379.67,130.17 L380.58,127.47 L381.50,125.09 L382.41,123.08 L383.33,121.47 L384.24,120.28 L385.16,119.54 L386.07,119.29 L386.99,119.45 L387.90,119.92 L388.82,120.69 L389.73,121.77 L390.65,123.14 L391.56,124.78 L392.48,126.67 L393.40,128.81 L394.31,131.16 L395.23,133.71 L396.14,136.44 L397.06,139.32 L397.97,142.33 L398.89,145.46 L399.80,148.67 L400.72,151.95 L401.63,155.28 L402.55,158.64 L403.46,162.02 L404.38,165.40 L405.29,168.77 L406.21,172.12 L407.12,175.43 L408.04,178.70 L408.95,181.91 L409.87,185.07 L410.78,188.17 L411.70,191.20 L412.61,194.16 L413.53,197.05 L414.44,199.86 L415.36,202.59 L416.28,205.25 L417.19,207.82 L418.11,210.32 L419.02,212.75 L419.94,215.09 L420.85,217.05 L421.77,218.96 L422.68,220.83 L423.60,222.66 L424.51,224.44 L425.43,226.18 L426.34,227.88 L427.26,229.53 L428.17,231.13 L429.09,232.69 L430.00,234.21 L430.92,235.67 L431.83,237.09 L432.75,238.46 L433.66,239.79 L434.58,241.06 L435.49,242.29 L436.41,243.47 L437.32,244.59 L438.24,245.67 L439.16,246.70 L440.07,247.67 L440.99,248.60 L441.90,249.47 L442.82,250.31 L443.73,251.11 L444.65,251.87 L445.56,252.60 L446.48,253.30 L447.39,253.98 L448.31,254.64 L449.22,255.28 L450.14,255.91 L451.05,256.53 L451.97,257.15 L452.88,257.77 L453.80,258.39 L454.71,259.02 L455.63,259.65 L456.54,260.31 L457.46,260.98 L458.37,261.67 L459.29,262.39 L460.20,263.14 L461.12,263.92 L462.04,264.72 L462.95,265.54 L463.87,266.38 L464.78,267.24 L465.70,268.11 L466.61,268.99 L467.53,269.88 L468.44,270.76 L469.36,271.65 L470.27,272.54 L471.19,273.42 L472.10,274.29 L473.02,275.14 L473.93,275.99 L474.85,276.81 L475.76,277.61 L476.68,278.39 L477.59,279.14 L478.51,279.85 L479.42,280.54 L480.34,281.19 L481.25,281.82 L482.17,282.44 L483.08,283.05 L484.00,283.65 L484.92,284.24 L485.83,284.82 L486.75,285.39 L487.66,285.94 L488.58,286.49 L489.49,287.03 L490.41,287.56 L491.32,288.07 L492.24,288.58 L493.15,289.08 L494.07,289.57 L494.98,290.05 L495.90,290.51 L496.81,290.97 L497.73,291.42 L498.64,291.87 L499.56,292.30 L500.47,292.72 L501.39,293.13 L502.30,293.54 L503.22,293.95 L504.13,294.36 L505.05,294.76 L505.96,295.15 L506.88,295.55 L507.80,295.94 L508.71,296.32 L509.63,296.70 L510.54,297.08 L511.46,297.45 L512.37,297.82 L513.29,298.18 L514.20,298.53 L515.12,298.88 L516.03,299.23 L516.95,299.57 L517.86,299.90 L518.78,300.23 L519.69,300.55 L520.61,300.86 L521.52,301.17 L522.44,301.47 L523.35,301.77 L524.27,302.05 L525.18,302.33 L526.10,302.60 L527.01,302.87 L527.93,303.12 L528.84,303.37 L529.76,303.61 L530.68,303.84"/>
<path d="M149.04,284.78 L149.95,285.28 L150.87,285.78 L151.78,286.26 L152.70,286.74 L153.61,287.21 L154.53,287.67 L155.44,288.12 L156.36,288.55 L157.27,288.97 L158.19,289.37 L159.10,289.75 L160.02,290.11 L160.93,290.45 L161.85,290.76 L162.76,291.04 L163.68,291.30 L164.60,291.52 L165.51,291.44 L166.43,291.06 L167.34,290.63 L168.26,290.17 L169.17,289.65 L170.09,289.09 L171.00,288.48 L171.92,287.82 L172.83,287.10 L173.75,286.32 L174.66,285.49 L175.58,284.60 L176.49,283.65 L177.41,282.63 L178.32,281.54 L179.24,280.40 L180.15,279.20 L181.07,277.93 L181.98,276.62 L182.90,275.25 L183.81,273.83 L184.73,272.37 L185.64,270.88 L186.56,269.35 L187.48,267.79 L188.39,266.22 L189.31,264.63 L190.22,263.03 L191.14,261.43 L192.05,259.84 L192.97,258.26 L193.88,256.70 L194.80,255.17 L195.71,253.68 L196.63,252.23 L197.54,250.82 L198.46,249.47 L199.37,248.17 L200.29,246.93 L201.20,245.75 L202.12,244.63 L203.03,243.58 L203.95,242.61 L204.86,241.71 L205.78,240.89 L206.69,240.14 L207.61,239.47 L208.52,238.87 L209.44,238.36 L210.36,237.91 L211.27,237.54 L212.19,237.23 L213.10,236.99 L214.02,236.81 L214.93,236.68 L215.85,236.60 L216.76,236.56 L217.68,236.55 L218.59,236.56 L219.51,236.58 L220.42,236.64 L221.34,236.73 L222.25,236.86 L223.17,237.04 L224.08,237.27 L225.00,237.55 L225.91,237.88 L226.83,238.28 L227.74,238.73 L228.66,239.25 L229.57,239.83 L230.49,240.47 L231.40,241.17 L232.32,241.94 L233.24,242.77 L234.15,243.66 L235.07,244.61 L235.98,245.61 L236.90,246.67 L237.81,247.79 L238.73,248.95 L239.64,250.15 L240.56,251.40 L241.47,252.68 L242.39,254.00 L243.30,255.34 L244.22,256.71 L245.13,258.09 L246.05,259.49 L246.96,260.90 L247.88,262.30 L248.79,263.71 L249.71,265.11 L250.62,266.50 L251.54,267.87 L252.45,269.22 L253.37,270.55 L254.28,271.85 L255.20,273.12 L256.12,274.35 L257.03,275.54 L257.95,276.70 L258.86,277.81 L259.78,278.88 L260.69,279.91 L261.61,280.89 L262.52,281.82 L263.44,282.71 L264.35,283.54 L265.27,284.34 L266.18,285.08 L267.10,285.78 L268.01,286.43 L268.93,287.04 L269.84,287.61 L270.76,288.13 L271.67,288.62 L272.59,289.06 L273.50,289.47 L274.42,289.85 L275.33,290.19 L276.25,290.50 L277.16,290.78 L278.08,291.03 L279.00,291.25 L279.91,291.46 L280.83,291.64 L281.74,291.80 L282.66,291.94 L283.57,292.06 L284.49,292.16 L285.40,292.25 L286.32,292.32 L287.23,292.38 L288.15,292.43 L289.06,292.47 L289.98,292.49 L290.89,292.51 L291.81,292.51 L292.72,292.50 L293.64,292.48 L294.55,292.46 L295.47,292.42 L296.38,292.37 L297.30,292.31 L298.21,292.24 L299.13,292.15 L300.04,292.05 L300.96,291.94 L301.88,291.81 L302.79,291.66 L303.71,291.51 L304.62,291.34 L305.54,291.15 L306.45,290.95 L307.37,290.74 L308.28,290.50 L309.20,290.26 L310.11,289.99 L311.03,289.71 L311.94,289.42 L312.86,289.10 L313.77,288.76 L314.69,288.41 L315.60,288.03 L316.52,287.63 L317.43,287.21 L318.35,286.76 L319.26,286.29 L320.18,285.78 L321.09,285.25 L322.01,284.69 L322.92,284.10 L323.84,283.47 L324.76,282.81 L325.67,282.11 L326.59,281.37 L327.50,280.59 L328.42,279.76 L329.33,278.88 L330.25,277.96 L331.16,276.98 L332.08,275.94 L332.99,274.85 L333.91,273.70 L334.82,272.48 L335.74,271.19 L336.65,269.82 L337.57,268.37 L338.48,266.84 L339.40,265.21 L340.31,263.49 L341.23,261.68 L342.14,259.76 L343.06,257.73 L343.97,255.59 L344.89,253.34 L345.80,250.97 L346.72,248.48 L347.64,245.86 L348.55,243.11 L349.47,240.22 L350.38,237.20 L351.30,234.04 L352.21,230.74 L353.13,227.30 L354.04,223.71 L354.96,219.97 L355.87,216.09 L356.79,212.07 L357.70,207.90 L358.62,203.59 L359.53,199.14 L360.45,194.56 L361.36,189.85 L362.28,185.02 L363.19,180.08 L364.11,175.04 L365.02,169.90 L365.94,164.69 L366.85,159.41 L367.77,154.09 L368.68,148.74 L369.60,143.39 L370.52,138.05 L371.43,132.75 L372.35,127.52 L373.26,122.38 L374.18,117.38 L375.09,112.53 L376.01,107.87 L376.92,103.44 L377.84,99.29 L378.75,95.43 L379.67,91.92 L380.58,88.80 L381.50,86.10 L382.41,83.87 L383.33,82.14 L384.24,80.95 L385.16,80.34 L386.07,80.31 L386.99,80.66 L387.90,81.36 L388.82,82.41 L389.73,83.78 L390.65,85.48 L391.56,87.48 L392.48,89.76 L393.40,92.31 L394.31,95.10 L395.23,98.11 L396.14,101.32 L397.06,104.70 L397.97,108.23 L398.89,111.88 L399.80,115.64 L400.72,119.47 L401.63,123.37 L402.55,127.31 L403.46,131.27 L404.38,135.24 L405.29,139.21 L406.21,143.15 L407.12,147.06 L408.04,150.93 L408.95,154.74 L409.87,158.49 L410.78,162.18 L411.70,165.79 L412.61,169.33 L413.53,172.79 L414.44,176.16 L415.36,179.45 L416.28,182.65 L417.19,185.76 L418.11,188.79 L419.02,191.73 L419.94,194.58 L420.85,196.94 L421.77,199.25 L422.68,201.49 L423.60,203.69 L424.51,205.82 L425.43,207.90 L426.34,209.93 L427.26,211.90 L428.17,213.81 L429.09,215.68 L430.00,217.49 L430.92,219.25 L431.83,220.96 L432.75,222.61 L433.66,224.22 L434.58,225.78 L435.49,227.28 L436.41,228.74 L437.32,230.16 L438.24,231.52 L439.16,232.84 L440.07,234.11 L440.99,235.33 L441.90,236.49 L442.82,237.61 L443.73,238.69 L444.65,239.72 L445.56,240.72 L446.48,241.69 L447.39,242.63 L448.31,243.54 L449.22,244.44 L450.14,245.32 L451.05,246.19 L451.97,247.06 L452.88,247.92 L453.80,248.78 L454.71,249.65 L455.63,250.53 L456.54,251.43 L457.46,252.34 L458.37,253.28 L459.29,254.24 L460.20,255.23 L461.12,256.25 L462.04,257.30 L462.95,258.37 L463.87,259.46 L464.78,260.56 L465.70,261.67 L466.61,262.79 L467.53,263.92 L468.44,265.05 L469.36,266.17 L470.27,267.29 L471.19,268.40 L472.10,269.49 L473.02,270.58 L473.93,271.64 L474.85,272.68 L475.76,273.69 L476.68,274.67 L477.59,275.62 L478.51,276.54 L479.42,277.41 L480.34,278.24 L481.25,279.05 L482.17,279.84 L483.08,280.62 L484.00,281.38 L484.92,282.12 L485.83,282.85 L486.75,283.57 L487.66,284.27 L488.58,284.96 L489.49,285.64 L490.41,286.30 L491.32,286.96 L492.24,287.61 L493.15,288.25 L494.07,288.88 L494.98,289.50 L495.90,290.12 L496.81,290.73 L497.73,291.34 L498.64,291.94 L499.56,292.54 L500.47,293.13 L501.39,293.72 L502.30,294.31 L503.22,294.90 L504.13,295.48 L505.05,296.06 L505.96,296.64 L506.88,297.21 L507.80,297.78 L508.71,298.34 L509.63,298.90 L510.54,299.46 L511.46,300.01 L512.37,300.55 L513.29,301.10 L514.20,301.63 L515.12,302.17 L516.03,302.69 L516.95,303.22 L517.86,303.73 L518.78,304.25 L519.69,304.75 L520.61,305.25 L521.52,305.75 L522.44,306.24 L523.35,306.72 L524.27,307.20 L525.18,307.67 L526.10,308.14 L527.01,308.60 L527.93,309.06 L528.84,309.50 L529.76,309.94 L530.68,310.38"/>
<path d="M149.04,283.53 L149.95,284.08 L150.87,284.63 L151.78,285.16 L152.70,285.68 L153.61,286.18 L154.53,286.67 L155.44,287.14 L156.36,287.59 L157.27,288.02 L158.19,288.42 L159.10,288.79 L160.02,289.13 L160.93,289.43 L161.85,289.69 L162.76,289.91 L163.68,290.09 L164.60,290.21 L165.51,289.98 L166.43,289.39 L167.34,288.74 L168.26,288.02 L169.17,287.23 L170.09,286.37 L171.00,285.43 L171.92,284.40 L172.83,283.29 L173.75,282.10 L174.66,280.81 L175.58,279.44 L176.49,277.97 L177.41,276.40 L178.32,274.74 L179.24,272.98 L180.15,271.14 L181.07,269.20 L181.98,267.19 L182.90,265.09 L183.81,262.92 L184.73,260.69 L185.64,258.40 L186.56,256.06 L187.48,253.68 L188.39,251.27 L189.31,248.84 L190.22,246.39 L191.14,243.94 L192.05,241.51 L192.97,239.09 L193.88,236.70 L194.80,234.36 L195.71,232.06 L196.63,229.83 L197.54,227.67 L198.46,225.59 L199.37,223.59 L200.29,221.68 L201.20,219.87 L202.12,218.16 L203.03,216.56 L203.95,215.07 L204.86,213.69 L205.78,212.43 L206.69,211.29 L207.61,210.27 L208.52,209.36 L209.44,208.57 L210.36,207.90 L211.27,207.33 L212.19,206.87 L213.10,206.51 L214.02,206.23 L214.93,206.04 L215.85,205.93 L216.76,205.87 L217.68,205.86 L218.59,205.87 L219.51,205.91 L220.42,205.99 L221.34,206.13 L222.25,206.34 L223.17,206.61 L224.08,206.96 L225.00,207.40 L225.91,207.92 L226.83,208.53 L227.74,209.23 L228.66,210.03 L229.57,210.93 L230.49,211.92 L231.40,213.01 L232.32,214.20 L233.24,215.48 L234.15,216.86 L235.07,218.33 L235.98,219.89 L236.90,221.54 L237.81,223.26 L238.73,225.06 L239.64,226.93 L240.56,228.86 L241.47,230.85 L242.39,232.89 L243.30,234.97 L244.22,237.09 L245.13,239.23 L246.05,241.40 L246.96,243.58 L247.88,245.76 L248.79,247.94 L249.71,250.11 L250.62,252.26 L251.54,254.39 L252.45,256.49 L253.37,258.54 L254.28,260.56 L255.20,262.52 L256.12,264.43 L257.03,266.28 L257.95,268.07 L258.86,269.79 L259.78,271.44 L260.69,273.03 L261.61,274.54 L262.52,275.98 L263.44,277.35 L264.35,278.64 L265.27,279.86 L266.18,281.00 L267.10,282.07 L268.01,283.08 L268.93,284.01 L269.84,284.87 L270.76,285.67 L271.67,286.41 L272.59,287.09 L273.50,287.71 L274.42,288.28 L275.33,288.79 L276.25,289.26 L277.16,289.68 L278.08,290.06 L279.00,290.41 L279.91,290.71 L280.83,290.98 L281.74,291.22 L282.66,291.42 L283.57,291.60 L284.49,291.76 L285.40,291.89 L286.32,292.01 L287.23,292.10 L288.15,292.17 L289.06,292.23 L289.98,292.27 L290.89,292.29 L291.81,292.30 L292.72,292.30 L293.64,292.29 L294.55,292.26 L295.47,292.22 L296.38,292.17 L297.30,292.10 L298.21,292.02 L299.13,291.92 L300.04,291.80 L300.96,291.67 L301.88,291.53 L302.79,291.36 L303.71,291.18 L304.62,290.99 L305.54,290.78 L306.45,290.55 L307.37,290.30 L308.28,290.04 L309.20,289.75 L310.11,289.45 L311.03,289.13 L311.94,288.78 L312.86,288.42 L313.77,288.03 L314.69,287.61 L315.60,287.18 L316.52,286.71 L317.43,286.22 L318.35,285.69 L319.26,285.14 L320.18,284.55 L321.09,283.93 L322.01,283.27 L322.92,282.57 L323.84,281.83 L324.76,281.04 L325.67,280.21 L326.59,279.33 L327.50,278.40 L328.42,277.41 L329.33,276.37 L330.25,275.26 L331.16,274.09 L332.08,272.86 L332.99,271.55 L333.91,270.16 L334.82,268.70 L335.74,267.15 L336.65,265.51 L337.57,263.76 L338.48,261.92 L339.40,259.97 L340.31,257.90 L341.23,255.72 L342.14,253.41 L343.06,250.98 L343.97,248.41 L344.89,245.70 L345.80,242.86 L346.72,239.86 L347.64,236.72 L348.55,233.42 L349.47,229.96 L350.38,226.34 L351.30,222.55 L352.21,218.59 L353.13,214.46 L354.04,210.16 L354.96,205.69 L355.87,201.04 L356.79,196.22 L357.70,191.23 L358.62,186.08 L359.53,180.76 L360.45,175.29 L361.36,169.67 L362.28,163.90 L363.19,158.01 L364.11,152.00 L365.02,145.88 L365.94,139.67 L366.85,133.40 L367.77,127.07 L368.68,120.72 L369.60,114.37 L370.52,108.05 L371.43,101.77 L372.35,95.59 L373.26,89.53 L374.18,83.63 L375.09,77.93 L376.01,72.47 L376.92,67.29 L377.84,62.44 L378.75,57.97 L379.67,53.92 L380.58,50.33 L381.50,47.26 L382.41,44.76 L383.33,42.86 L384.24,41.62 L385.16,41.08 L386.07,41.16 L386.99,41.62 L387.90,42.46 L388.82,43.66 L389.73,45.21 L390.65,47.10 L391.56,49.31 L392.48,51.82 L393.40,54.62 L394.31,57.69 L395.23,60.99 L396.14,64.51 L397.06,68.22 L397.97,72.10 L398.89,76.13 L399.80,80.28 L400.72,84.52 L401.63,88.85 L402.55,93.23 L403.46,97.66 L404.38,102.11 L405.29,106.56 L406.21,111.00 L407.12,115.42 L408.04,119.81 L408.95,124.15 L409.87,128.44 L410.78,132.67 L411.70,136.82 L412.61,140.90 L413.53,144.90 L414.44,148.82 L415.36,152.65 L416.28,156.39 L417.19,160.04 L418.11,163.60 L419.02,167.06 L419.94,170.43 L420.85,173.47 L421.77,176.46 L422.68,179.40 L423.60,182.30 L424.51,185.15 L425.43,187.95 L426.34,190.70 L427.26,193.40 L428.17,196.04 L429.09,198.63 L430.00,201.16 L430.92,203.63 L431.83,206.05 L432.75,208.40 L433.66,210.69 L434.58,212.91 L435.49,215.07 L436.41,217.16 L437.32,219.19 L438.24,221.14 L439.16,223.02 L440.07,224.83 L440.99,226.57 L441.90,228.27 L442.82,229.92 L443.73,231.52 L444.65,233.07 L445.56,234.59 L446.48,236.07 L447.39,237.51 L448.31,238.91 L449.22,240.29 L450.14,241.64 L451.05,242.96 L451.97,244.26 L452.88,245.53 L453.80,246.79 L454.71,248.03 L455.63,249.26 L456.54,250.47 L457.46,251.68 L458.37,252.88 L459.29,254.07 L460.20,255.27 L461.12,256.46 L462.04,257.64 L462.95,258.81 L463.87,259.97 L464.78,261.12 L465.70,262.26 L466.61,263.39 L467.53,264.50 L468.44,265.60 L469.36,266.69 L470.27,267.76 L471.19,268.81 L472.10,269.85 L473.02,270.86 L473.93,271.86 L474.85,272.84 L475.76,273.80 L476.68,274.73 L477.59,275.65 L478.51,276.54 L479.42,277.41 L480.34,278.25 L481.25,279.06 L482.17,279.85 L483.08,280.62 L484.00,281.37 L484.92,282.10 L485.83,282.81 L486.75,283.50 L487.66,284.19 L488.58,284.86 L489.49,285.52 L490.41,286.18 L491.32,286.83 L492.24,287.48 L493.15,288.12 L494.07,288.77 L494.98,289.42 L495.90,290.08 L496.81,290.74 L497.73,291.42 L498.64,292.10 L499.56,292.79 L500.47,293.51 L501.39,294.23 L502.30,294.96 L503.22,295.69 L504.13,296.43 L505.05,297.16 L505.96,297.90 L506.88,298.64 L507.80,299.39 L508.71,300.13 L509.63,300.88 L510.54,301.63 L511.46,302.39 L512.37,303.14 L513.29,303.90 L514.20,304.66 L515.12,305.42 L516.03,306.19 L516.95,306.95 L517.86,307.72 L518.78,308.50 L519.69,309.27 L520.61,310.05 L521.52,310.83 L522.44,311.61 L523.35,312.40 L524.27,313.18 L525.18,313.97 L526.10,314.77 L527.01,315.56 L527.93,316.36 L528.84,317.16 L529.76,317.96 L530.68,318.77"/></g><g stroke="#000" stroke-width="2.6" fill="none"><line x1="83.60" y1="11.00" x2="83.60" y2="331.70"/><line x1="78" y1="325.50" x2="586.96" y2="325.50"/><line x1="78" y1="325.50" x2="83.60" y2="325.50"/><line x1="78" y1="262.86" x2="83.60" y2="262.86"/><line x1="78" y1="200.22" x2="83.60" y2="200.22"/><line x1="78" y1="137.58" x2="83.60" y2="137.58"/><line x1="78" y1="74.94" x2="83.60" y2="74.94"/><line x1="78" y1="12.30" x2="83.60" y2="12.30"/><line x1="83.60" y1="325.50" x2="83.60" y2="331.70"/><line x1="175.12" y1="325.50" x2="175.12" y2="331.70"/><line x1="266.64" y1="325.50" x2="266.64" y2="331.70"/><line x1="358.16" y1="325.50" x2="358.16" y2="331.70"/><line x1="449.68" y1="325.50" x2="449.68" y2="331.70"/><line x1="541.20" y1="325.50" x2="541.20" y2="331.70"/></g><text x="66.90" y="331.90" font-size="19" text-anchor="end" >-0.5</text><text x="66.90" y="269.26" font-size="19" text-anchor="end" >0.5</text><text x="66.90" y="206.62" font-size="19" text-anchor="end" >1.5</text><text x="66.90" y="143.98" font-size="19" text-anchor="end" >2.5</text><text x="66.90" y="81.34" font-size="19" text-anchor="end" >3.5</text><text x="66.90" y="18.70" font-size="19" text-anchor="end" >4.5</text><text x="83.60" y="356.20" font-size="19" text-anchor="middle" >0</text><text x="175.12" y="356.20" font-size="19" text-anchor="middle" >0.2</text><text x="266.64" y="356.20" font-size="19" text-anchor="middle" >0.4</text><text x="358.16" y="356.20" font-size="19" text-anchor="middle" >0.6</text><text x="449.68" y="356.20" font-size="19" text-anchor="middle" >0.8</text><text x="541.20" y="356.20" font-size="19" text-anchor="middle" >1</text><text x="335.20" y="381.20" font-size="19.4" text-anchor="middle" >Potential (V) vs. Ag/AgCl</text><text transform="translate(16.6,168.7) rotate(-90)" font-size="19.7" text-anchor="middle">Current (µA)</text><text x="115.60" y="44.80" font-size="25" text-anchor="start" >A</text><text x="102.00" y="80.80" font-size="16.7" text-anchor="start" >700.0 µM (HQ) + 300.0 µM (RC)</text><text x="110.60" y="192.20" font-size="16.7" text-anchor="start" >50.0 µM (HQ) + 5.0 µM (RC)</text><text x="206.80" y="316.00" font-size="22.4" text-anchor="start" >HQ</text><text x="378.90" y="312.30" font-size="22.4" text-anchor="start" >RC</text><g stroke="#000" stroke-width="2.4" fill="none" stroke-linecap="round" stroke-linejoin="round"><line x1="218.8" y1="166.5" x2="218.8" y2="93.5"/><polyline points="213.9,102.6 218.8,93.2 223.7,102.6"/></g>
<g stroke="#000" stroke-width="2.7" fill="none"><line x1="90.40" y1="422.15" x2="90.40" y2="736.80"/><line x1="84.3" y1="731.00" x2="577.55" y2="731.00"/><line x1="84.3" y1="731.00" x2="90.40" y2="731.00"/><line x1="84.3" y1="654.10" x2="90.40" y2="654.10"/><line x1="84.3" y1="577.20" x2="90.40" y2="577.20"/><line x1="84.3" y1="500.30" x2="90.40" y2="500.30"/><line x1="84.3" y1="423.40" x2="90.40" y2="423.40"/><line x1="90.40" y1="731.00" x2="90.40" y2="736.80"/><line x1="187.58" y1="731.00" x2="187.58" y2="736.80"/><line x1="284.76" y1="731.00" x2="284.76" y2="736.80"/><line x1="381.94" y1="731.00" x2="381.94" y2="736.80"/><line x1="479.12" y1="731.00" x2="479.12" y2="736.80"/><line x1="576.30" y1="731.00" x2="576.30" y2="736.80"/></g><text x="73.60" y="737.30" font-size="18.8" text-anchor="end" >-0.1</text><text x="73.60" y="660.40" font-size="18.8" text-anchor="end" >0.3</text><text x="73.60" y="583.50" font-size="18.8" text-anchor="end" >0.7</text><text x="73.60" y="506.60" font-size="18.8" text-anchor="end" >1.1</text><text x="73.60" y="429.70" font-size="18.8" text-anchor="end" >1.5</text><text x="90.40" y="759.50" font-size="18.8" text-anchor="middle" >0</text><text x="187.58" y="759.50" font-size="18.8" text-anchor="middle" >150</text><text x="284.76" y="759.50" font-size="18.8" text-anchor="middle" >300</text><text x="381.94" y="759.50" font-size="18.8" text-anchor="middle" >450</text><text x="479.12" y="759.50" font-size="18.8" text-anchor="middle" >600</text><text x="576.30" y="759.50" font-size="18.8" text-anchor="middle" >750</text><text x="333.30" y="784.00" font-size="18.6" text-anchor="middle" >HQ concentration (µM)</text><text transform="translate(27.8,579.4) rotate(-90)" font-size="19.1" text-anchor="middle">Current (µA)</text><text x="120.00" y="462.30" font-size="25" text-anchor="start" >B</text><text x="272.40" y="485.20" font-size="18.8" text-anchor="middle" >y = 0.0021x - 0.0869</text><text x="273.00" y="506.60" font-size="18.8" text-anchor="middle" >R² = 0.9919</text><g fill="none" stroke="#f00" stroke-width="2.3"><circle cx="122.79" cy="699.66" r="3.95"/><circle cx="155.19" cy="685.63" r="3.95"/><circle cx="219.97" cy="649.87" r="3.95"/><circle cx="284.76" cy="620.07" r="3.95"/><circle cx="349.55" cy="578.74" r="3.95"/><circle cx="414.33" cy="534.90" r="3.95"/><circle cx="543.91" cy="440.70" r="3.95"/></g><line x1="122.8" y1="708.5" x2="543.5" y2="452.2" stroke="#000" stroke-width="3.1" stroke-linecap="round"/>
<g stroke="#000" stroke-width="2.7" fill="none"><line x1="87.25" y1="836.05" x2="87.25" y2="1154.10"/><line x1="81.3" y1="1148.50" x2="584.45" y2="1148.50"/><line x1="81.3" y1="1148.50" x2="87.25" y2="1148.50"/><line x1="81.3" y1="1086.26" x2="87.25" y2="1086.26"/><line x1="81.3" y1="1024.02" x2="87.25" y2="1024.02"/><line x1="81.3" y1="961.78" x2="87.25" y2="961.78"/><line x1="81.3" y1="899.54" x2="87.25" y2="899.54"/><line x1="81.3" y1="837.30" x2="87.25" y2="837.30"/><line x1="87.25" y1="1148.50" x2="87.25" y2="1154.10"/><line x1="186.44" y1="1148.50" x2="186.44" y2="1154.10"/><line x1="285.63" y1="1148.50" x2="285.63" y2="1154.10"/><line x1="384.82" y1="1148.50" x2="384.82" y2="1154.10"/><line x1="484.01" y1="1148.50" x2="484.01" y2="1154.10"/><line x1="583.20" y1="1148.50" x2="583.20" y2="1154.10"/></g><text x="70.60" y="1155.00" font-size="18.8" text-anchor="end" >0</text><text x="70.60" y="1092.76" font-size="18.8" text-anchor="end" >0.9</text><text x="70.60" y="1030.52" font-size="18.8" text-anchor="end" >1.8</text><text x="70.60" y="968.28" font-size="18.8" text-anchor="end" >2.7</text><text x="70.60" y="906.04" font-size="18.8" text-anchor="end" >3.6</text><text x="70.60" y="843.80" font-size="18.8" text-anchor="end" >4.5</text><text x="87.25" y="1177.40" font-size="18.8" text-anchor="middle" >0</text><text x="186.44" y="1177.40" font-size="18.8" text-anchor="middle" >70</text><text x="285.63" y="1177.40" font-size="18.8" text-anchor="middle" >140</text><text x="384.82" y="1177.40" font-size="18.8" text-anchor="middle" >210</text><text x="484.01" y="1177.40" font-size="18.8" text-anchor="middle" >280</text><text x="583.20" y="1177.40" font-size="18.8" text-anchor="middle" >350</text><text x="335.20" y="1202.40" font-size="18.8" text-anchor="middle" >RC concentration (µM)</text><text transform="translate(21.8,994) rotate(-90)" font-size="19.0" text-anchor="middle">Current (µA)</text><text x="115.50" y="879.50" font-size="25" text-anchor="start" >C</text><text x="282.40" y="907.40" font-size="18.9" text-anchor="middle" >y = 0.0127x + 0.261</text><text x="283.00" y="928.80" font-size="18.9" text-anchor="middle" >R² = 0.9956</text><g fill="none" stroke="#f00" stroke-width="2.3"><circle cx="94.33" cy="1134.88" r="3.95"/><circle cx="158.10" cy="1085.57" r="3.95"/><circle cx="228.95" cy="1030.31" r="3.95"/><circle cx="299.80" cy="1001.20" r="3.95"/><circle cx="370.65" cy="955.42" r="3.95"/><circle cx="441.50" cy="912.33" r="3.95"/><circle cx="512.35" cy="869.04" r="3.95"/></g><line x1="94.33" y1="1126.06" x2="512.35" y2="867.97" stroke="#000" stroke-width="3.1" stroke-linecap="round"/>
</svg></body></html>
